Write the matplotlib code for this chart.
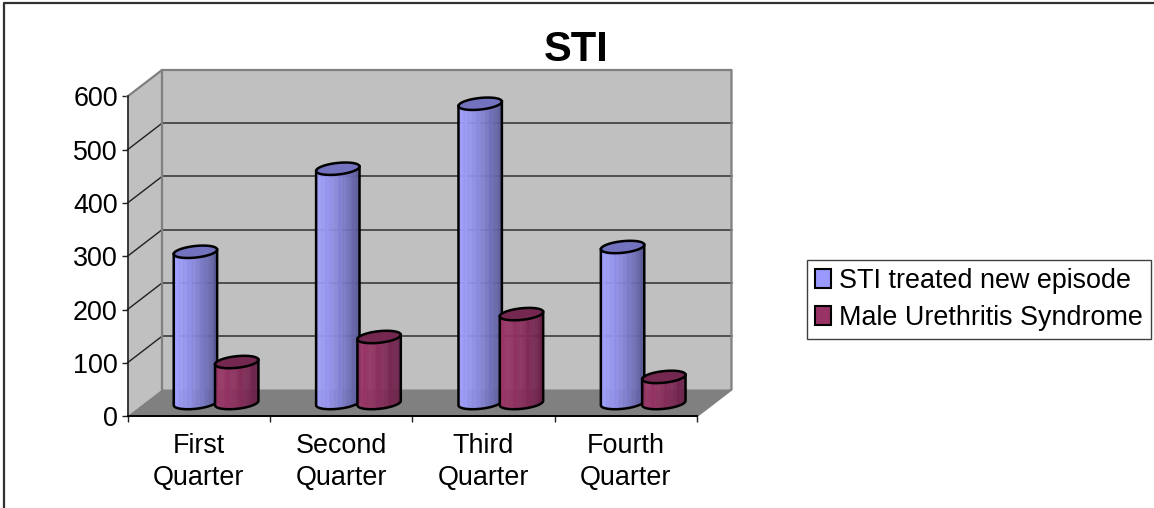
import numpy as np
import matplotlib
matplotlib.use('Agg')
from matplotlib import pyplot as plt
from matplotlib.patches import Patch

categories = ['First\nQuarter', 'Second\nQuarter', 'Third\nQuarter', 'Fourth\nQuarter']
sti_treated = [284, 440, 562, 293]
male_urethritis = [77, 124, 167, 49]
series_names = ['STI treated new episode', 'Male Urethritis Syndrome']
y_ticks = [0, 100, 200, 300, 400, 500, 600]

plt.rcParams['font.family'] = ['Liberation Sans', 'DejaVu Sans']

W, H = 1154, 508
fig = plt.figure(figsize=(W / 100, H / 100), dpi=100)
fig.patch.set_facecolor('white')

# front plane of the fake 3d box
left, right, bottom, top = 127.5, 697, 416, 96.5
ax = fig.add_axes([left / W, 1 - bottom / H, (right - left) / W, (bottom - top) / H])
ax.set_xlim(0, 4)
ax.set_ylim(0, 600)
ax.patch.set_visible(False)

px_x = (right - left) / 4
px_y = (bottom - top) / 600
dx = 34.5 / px_x
dy = 26.5 / px_y

wall = '#c0c0c0'
edge = '#808080'

# walls and floor
ax.fill([0, dx, dx, 0], [0, dy, 600 + dy, 600], color=wall, lw=0, zorder=1, clip_on=False)
ax.fill([dx, 4 + dx, 4 + dx, dx], [dy, dy, 600 + dy, 600 + dy], color=wall, lw=0, zorder=1, clip_on=False)
ax.fill([0, 4, 4 + dx, dx], [0, 0, dy, dy], color=edge, lw=0, zorder=1, clip_on=False)

# gridlines
for v in y_ticks[1:-1]:
    ax.plot([dx, 4 + dx], [v + dy, v + dy], color='#303030', lw=1.1, zorder=2, clip_on=False)
    ax.plot([0, dx], [v, v + dy], color='#202020', lw=1, zorder=2, clip_on=False)
ax.plot([0, dx, 4 + dx, 4 + dx, 4], [600, 600 + dy, 600 + dy, dy, 0], color=edge, lw=1.6, zorder=2, clip_on=False)
ax.plot([dx, dx], [dy, 600 + dy], color=edge, lw=1.6, zorder=2, clip_on=False)


def cylinder(xc, value, light, dark, top_col):
    # half sizes, in axis units
    a = 21.7 / px_x
    b = 5.8 / px_y
    s = 2.2 / px_y
    y0 = dy * 0.49
    y1 = y0 + value
    xc = xc + dx * 0.5
    edges = np.linspace(-1, 1, 41)
    for i in range(40):
        u0, u1 = edges[i], edges[i + 1]
        c = (u0 + u1) / 2
        mix = ((c + 1) / 2) ** 1.6
        col = np.array(light) * (1 - mix) + np.array(dark) * mix
        if i % 4 == 1:
            col = col * 0.96
        xs = np.array([u0, u1])
        low = s * xs - b * np.sqrt(1 - xs ** 2)
        ax.fill([xc + a * u0, xc + a * u1, xc + a * u1, xc + a * u0],
                [y0 + low[0], y0 + low[1], y1 + low[1], y1 + low[0]],
                color=col / 255, lw=0.3, zorder=3, clip_on=False)
    t = np.linspace(0, 2 * np.pi, 100)
    ax.fill(xc + a * np.cos(t), y1 + s * np.cos(t) + b * np.sin(t),
            facecolor=top_col, edgecolor='black', lw=1.8, zorder=3, clip_on=False)
    t = np.linspace(np.pi, 2 * np.pi, 50)
    ox = np.concatenate([[xc - a], xc + a * np.cos(t), [xc + a]])
    oy = np.concatenate([[y1 - s], y0 + s * np.cos(t) + b * np.sin(t), [y1 + s]])
    ax.plot(ox, oy, color='black', lw=1.8, zorder=3, clip_on=False, solid_joinstyle='round')


for i in range(len(categories)):
    cylinder(i + 0.356, sti_treated[i], (160, 160, 255), (88, 88, 150), '#7272bf')
    cylinder(i + 0.646, male_urethritis[i], (156, 54, 104), (104, 32, 72), '#742850')

# axes
for side in ['top', 'right']:
    ax.spines[side].set_visible(False)
ax.spines['left'].set_color('#202020')
ax.spines['bottom'].set_color('black')
ax.spines['left'].set_linewidth(1.2)
ax.spines['bottom'].set_linewidth(1.4)
ax.spines['left'].set_zorder(4)
ax.spines['bottom'].set_zorder(4)
ax.set_yticks(y_ticks)
ax.tick_params(axis='y', labelsize=19.4, length=4.5, width=1, pad=2.5, color='#202020')
ax.set_xticks(range(5))
ax.set_xticklabels([])
ax.tick_params(axis='x', which='major', length=4.5, width=1, color='#202020')
ax.set_xticks(np.arange(4) + 0.5, minor=True)
ax.set_xticklabels(categories, minor=True, fontsize=19.4, linespacing=1.33)
ax.tick_params(axis='x', which='minor', length=0, pad=12)

fig.text(576 / W, 1 - 50 / H, 'STI', fontsize=30, fontweight='bold', ha='center', va='center')

handles = [Patch(facecolor='#9999ff', edgecolor='black', lw=1.5),
           Patch(facecolor='#993366', edgecolor='black', lw=1.5)]
leg = fig.legend(handles, series_names, loc='center left', bbox_to_anchor=(807 / W, 1 - 299.5 / H),
                 fontsize=19.4, fancybox=False, framealpha=1, edgecolor='#404040',
                 handlelength=0.6, handleheight=0.7, handletextpad=0.3, borderpad=0.3,
                 labelspacing=0.42, borderaxespad=0)

# chart area border, top and left only
fig.add_artist(plt.Line2D([3.5 / W, 3.5 / W, 1], [0, 1 - 3 / H, 1 - 3 / H], transform=fig.transFigure,
                          color='#303030', lw=1.6))

fig.savefig('out.png', dpi=100)
